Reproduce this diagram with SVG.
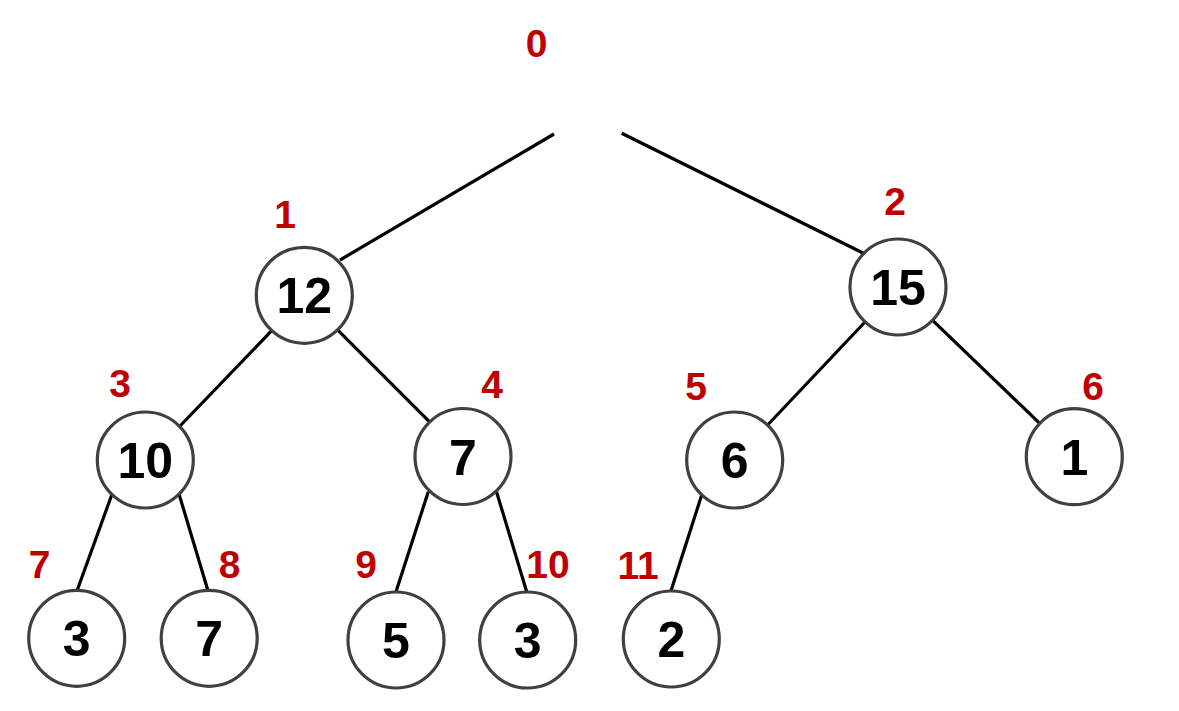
<svg xmlns="http://www.w3.org/2000/svg" width="1179" height="711" viewBox="0 0 1179 711">
<style>
.edge{stroke:#000;stroke-width:3.2;fill:none;stroke-linecap:butt}
.node circle{fill:#fff;stroke:#404040;stroke-width:3.2}
.val{font-family:"Liberation Sans",Arial,sans-serif;font-weight:bold;font-size:50px;fill:#000;text-anchor:middle}
.idx{font-family:"Liberation Sans",Arial,sans-serif;font-weight:bold;font-size:39px;fill:#C00000;text-anchor:middle}
</style>
<rect width="1179" height="711" fill="#fff"/>
<g id="connectors">
<line class="edge" x1="554" y1="134" x2="340" y2="260"/>
<line class="edge" x1="621.7" y1="133.3" x2="865" y2="254"/>
<line class="edge" x1="271.7" y1="330.7" x2="180" y2="426"/>
<line class="edge" x1="338.3" y1="330.7" x2="429.3" y2="421.7"/>
<line class="edge" x1="865" y1="322" x2="767.6" y2="425"/>
<line class="edge" x1="932.6" y1="320.3" x2="1039.7" y2="423.4"/>
<line class="edge" x1="111.7" y1="495" x2="77.3" y2="590"/>
<line class="edge" x1="179.3" y1="495" x2="208.3" y2="591.7"/>
<line class="edge" x1="428.3" y1="491.7" x2="396" y2="591.7"/>
<line class="edge" x1="496.5" y1="491.7" x2="526.7" y2="591.7"/>
<line class="edge" x1="701.7" y1="495" x2="670.7" y2="591.7"/>
</g>
<g id="labels">
<text class="idx" x="536.5" y="57">0</text>
<text class="idx" x="285" y="228">1</text>
<text class="idx" x="895" y="215">2</text>
<text class="idx" x="120" y="397">3</text>
<text class="idx" x="492" y="398">4</text>
<text class="idx" x="696" y="400">5</text>
<text class="idx" x="1093" y="400">6</text>
<text class="idx" x="39.5" y="578">7</text>
<text class="idx" x="229.5" y="578">8</text>
<text class="idx" x="366" y="578">9</text>
<text class="idx" x="548" y="578">10</text>
<text class="idx" x="638" y="579">11</text>
</g>
<g id="n1" class="node"><circle cx="304.3" cy="295.3" r="48"/><text class="val" x="304.3" y="313.3">12</text></g>
<g id="n2" class="node"><circle cx="898" cy="287" r="48"/><text class="val" x="898" y="305">15</text></g>
<g id="n3" class="node"><circle cx="145.3" cy="460" r="48"/><text class="val" x="145.3" y="478">10</text></g>
<g id="n4" class="node"><circle cx="463" cy="456.5" r="48"/><text class="val" x="463" y="474.5">7</text></g>
<g id="n5" class="node"><circle cx="734.7" cy="460" r="48"/><text class="val" x="734.7" y="478">6</text></g>
<g id="n6" class="node"><circle cx="1074.3" cy="456.7" r="48"/><text class="val" x="1074.3" y="474.7">1</text></g>
<g id="n7" class="node"><circle cx="76.7" cy="638.3" r="48"/><text class="val" x="76.7" y="656.3">3</text></g>
<g id="n8" class="node"><circle cx="209.2" cy="638.3" r="48"/><text class="val" x="209.2" y="656.3">7</text></g>
<g id="n9" class="node"><circle cx="396" cy="640" r="48"/><text class="val" x="396" y="658">5</text></g>
<g id="n10" class="node"><circle cx="527.7" cy="640" r="48"/><text class="val" x="527.7" y="658">3</text></g>
<g id="n11" class="node"><circle cx="671.3" cy="639" r="48"/><text class="val" x="671.3" y="657">2</text></g>
</svg>
